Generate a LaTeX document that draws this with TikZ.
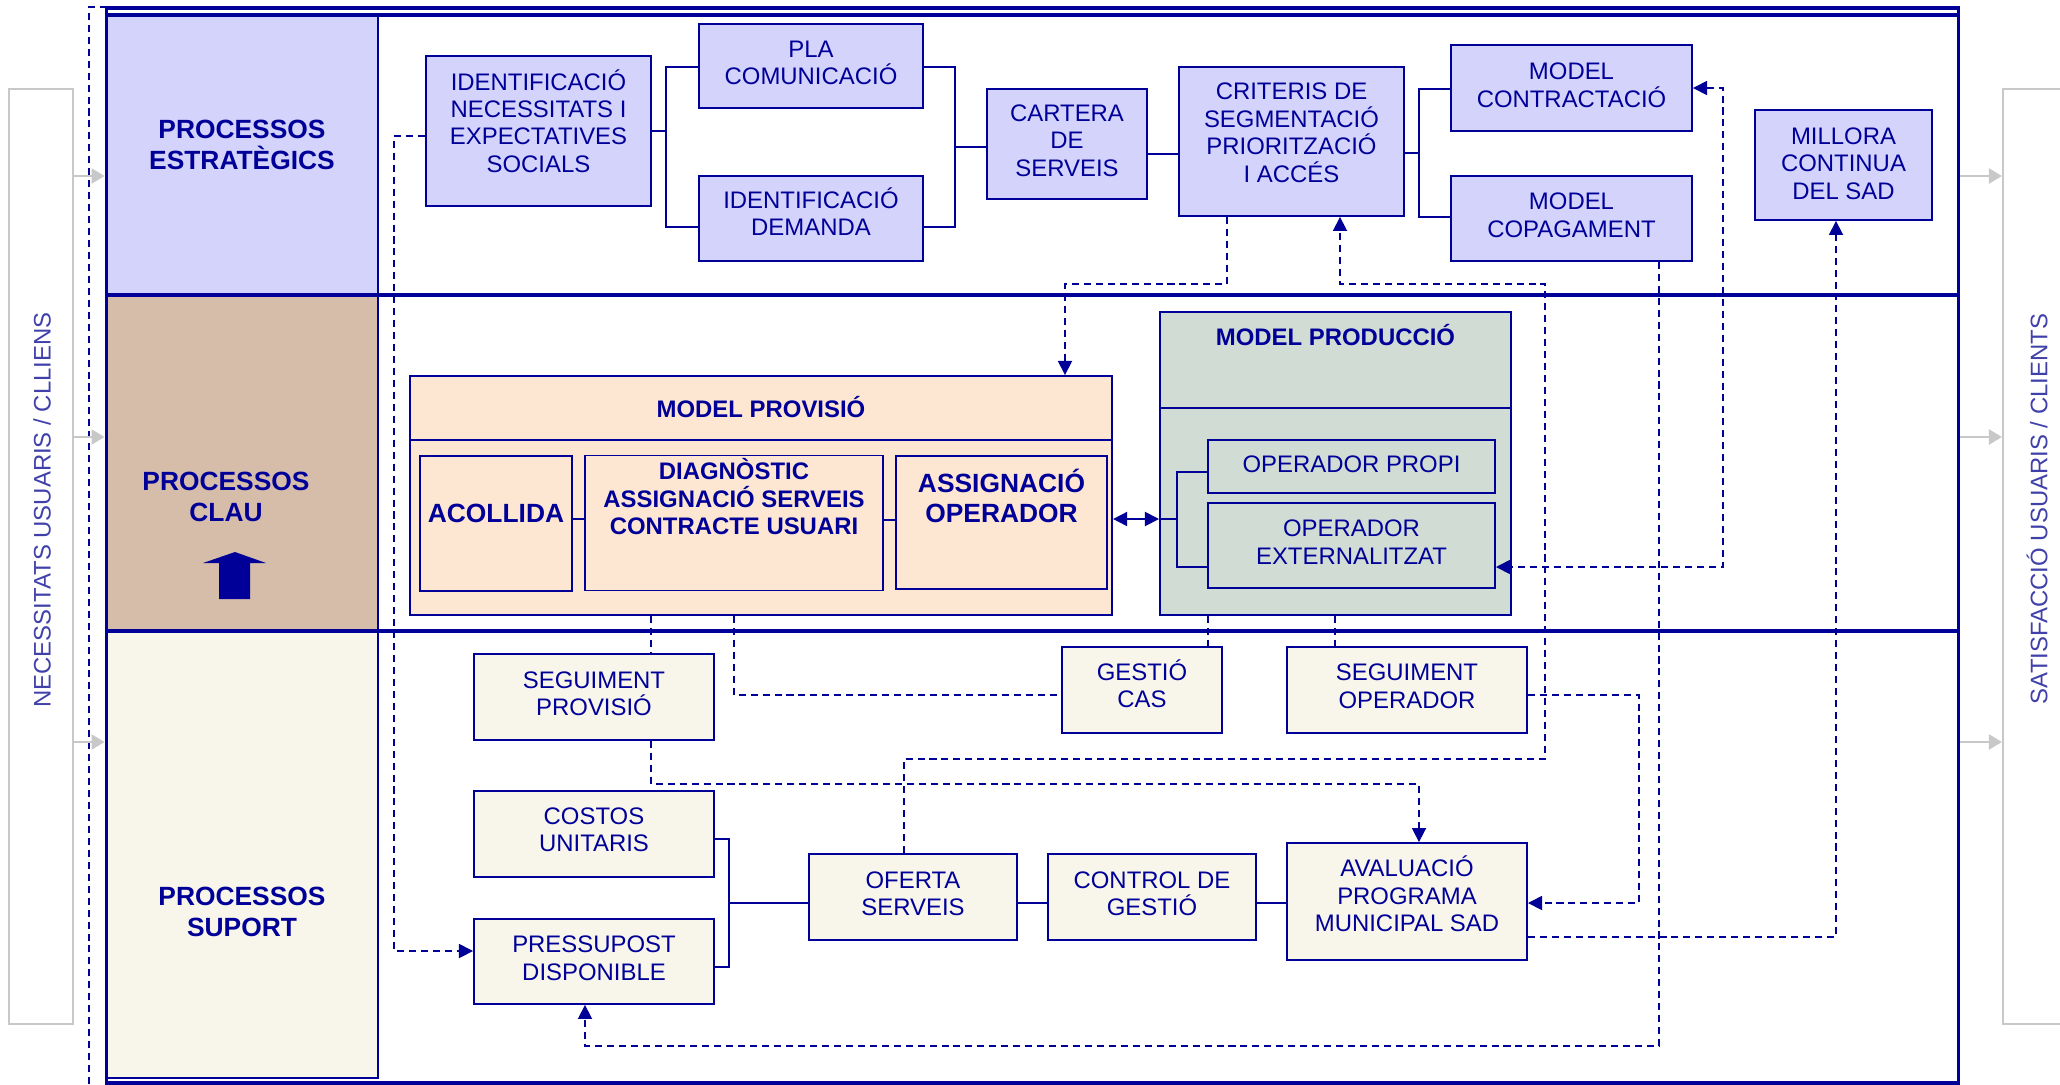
\documentclass[tikz,border=0pt]{standalone}
\usepackage{fontspec}
\setmainfont{Liberation Sans}
\usetikzlibrary{arrows.meta}

\definecolor{dblue}{RGB}{0,0,153}
\definecolor{lav}{RGB}{211,211,252}
\definecolor{peach}{RGB}{253,231,211}
\definecolor{sage}{RGB}{209,220,212}
\definecolor{tan}{RGB}{214,189,170}
\definecolor{cream}{RGB}{248,246,235}
\definecolor{sidegray}{RGB}{200,200,200}
\definecolor{sideblue}{RGB}{64,64,170}
\newcommand{\lift}[1]{\rule[-#1]{0pt}{0pt}}

\begin{document}
\begin{tikzpicture}[x=0.01cm, y=-0.01cm,
	box/.style={draw=dblue, line width=0.5pt, align=center, inner sep=0pt, text=dblue, font=\fontsize{6.8}{7.8}\selectfont},
	strat/.style={box, fill=lav},
	clau/.style={box, fill=peach},
	prod/.style={box, fill=sage},
	suport/.style={box, fill=cream},
	hdr/.style={text=dblue, align=center, font=\fontsize{7.5}{8.8}\selectfont\bfseries},
	ttl/.style={text=dblue, font=\fontsize{6.8}{8}\selectfont\bfseries},
	bigtxt/.style={font=\fontsize{7.5}{8.5}\selectfont\bfseries},
	sidebox/.style={draw=sidegray, line width=0.6pt, minimum width=0.64cm, minimum height=9.35cm, inner sep=0pt},
	sidetxt/.style={text=sideblue, rotate=90, font=\fontsize{6.8}{8}\selectfont},
	conn/.style={color=dblue, line width=0.5pt},
	dline/.style={color=dblue, line width=0.45pt, dash pattern=on 2pt off 1.4pt},
	toarrow/.style={-{Triangle[length=4pt, width=4pt]}},
	botharrow/.style={{Triangle[length=4pt, width=4pt]}-{Triangle[length=4pt, width=4pt]}},
	band/.style={draw=dblue, line width=1pt},
	grayarr/.style={color=sidegray, line width=0.6pt, -{Triangle[length=3.7pt, width=4.3pt]}}
]
	\useasboundingbox (0,0) rectangle (2060,1084);
	\clip (0,0) rectangle (2060,1084);

	% label column
	\fill[lav] (107,15) rectangle (378,295);
	\fill[tan] (107,295) rectangle (378,631);
	\fill[cream] (107,631) rectangle (378,1078);
	\draw[dblue, line width=0.6pt] (378,15) -- (378,1078) -- (107,1078);

	% frame and bands
	\node[draw=dblue, line width=1.1pt, minimum width=18.51cm, minimum height=10.75cm, inner sep=0pt] (frame) at (1032.5,545.5) {};
	\draw[band] (frame.west |- 0,15) -- (frame.east |- 0,15);
	\draw[band] (frame.west |- 0,295) -- (frame.east |- 0,295);
	\draw[band] (frame.west |- 0,631) -- (frame.east |- 0,631);
	\draw[dline] (89,1084) -- (89,7) -- (1958,7);

	\node[hdr] (lblest) at (242,144.5) {PROCESSOS\\ESTRATÈGICS};
	\node[hdr] (lblclau) at (226,497) {PROCESSOS\\CLAU};
	\node[hdr] (lblsup) at (242,912) {PROCESSOS\\SUPORT};
	\fill[dblue] (235,552) -- (266,563) -- (250,563) -- (250,599) -- (219,599) -- (219,563) -- (203,563) -- cycle;

	% side boxes
	\node[sidebox] (needs) at (41,556.5) {};
	\node[sidebox] (satisf) at (2035,556.5) {};
	\node[sidetxt] (needstxt) at (42,510) {NECESSITATS USUARIS / CLLIENS};
	\node[sidetxt] (satisftxt) at (2037,509) {SATISFACCIÓ USUARIS / CLIENTS};
	\draw[grayarr] (needs.east |- 0,176) -- (frame.west |- 0,176);
	\draw[grayarr] (needs.east |- 0,437) -- (frame.west |- 0,437);
	\draw[grayarr] (needs.east |- 0,742) -- (frame.west |- 0,742);
	\draw[grayarr] (frame.east |- 0,176) -- (satisf.west |- 0,176);
	\draw[grayarr] (frame.east |- 0,437) -- (satisf.west |- 0,437);
	\draw[grayarr] (frame.east |- 0,742) -- (satisf.west |- 0,742);

	% estrategics
	\node[strat, minimum width=2.25cm, minimum height=1.5cm] (ident) at (538.5,131) {IDENTIFICACIÓ\\NECESSITATS I\\EXPECTATIVES\\SOCIALS\lift{5.8pt}};
	\node[strat, minimum width=2.24cm, minimum height=0.84cm] (pla) at (811,66) {PLA\\COMUNICACIÓ\lift{1.7pt}};
	\node[strat, minimum width=2.24cm, minimum height=0.85cm] (idemanda) at (811,218.5) {IDENTIFICACIÓ\\DEMANDA\lift{3.8pt}};
	\node[strat, minimum width=1.6cm, minimum height=1.1cm] (cartera) at (1067,144) {CARTERA\\DE\\SERVEIS\lift{2pt}};
	\node[strat, minimum width=2.25cm, minimum height=1.49cm] (criteris) at (1291.5,141.5) {CRITERIS DE\\SEGMENTACIÓ\\PRIORITZACIÓ\\I ACCÉS\lift{5.1pt}};
	\node[strat, minimum width=2.41cm, minimum height=0.86cm] (contract) at (1571.5,88) {MODEL\\CONTRACTACIÓ\lift{1.7pt}};
	\node[strat, minimum width=2.41cm, minimum height=0.85cm] (copag) at (1571.5,218.5) {MODEL\\COPAGAMENT\lift{2pt}};
	\node[strat, minimum width=1.77cm, minimum height=1.1cm] (millora) at (1843.5,165) {MILLORA\\CONTINUA\\DEL SAD\lift{0.9pt}};

	% clau
	\node[clau, minimum width=7.02cm, minimum height=2.39cm] (provisio) at (761,495.5) {};
	\draw[conn] (provisio.west |- 0,440) -- (provisio.east |- 0,440);
	\node[ttl] (provttl) at (761,407) {MODEL PROVISIÓ};
	\node[clau, minimum width=1.52cm, minimum height=1.35cm, bigtxt] (acollida) at (496,523.5) {ACOLLIDA\lift{6pt}};
	\node[clau, minimum width=2.98cm, minimum height=1.35cm, font=\fontsize{6.8}{7.9}\selectfont\bfseries] (diagnostic) at (734,523) {DIAGNÒSTIC\\ASSIGNACIÓ SERVEIS\\CONTRACTE USUARI\lift{15.1pt}};
	\node[clau, minimum width=2.11cm, minimum height=1.33cm, bigtxt] (assignacio) at (1001.5,522.5) {ASSIGNACIÓ\\OPERADOR\lift{15.1pt}};

	\node[prod, minimum width=3.51cm, minimum height=3.03cm] (produccio) at (1335.5,463.5) {};
	\draw[conn] (produccio.west |- 0,408) -- (produccio.east |- 0,408);
	\node[ttl] (prodttl) at (1335.5,335) {MODEL PRODUCCIÓ};
	\node[prod, minimum width=2.87cm, minimum height=0.53cm] (propi) at (1351.5,466.5) {OPERADOR PROPI\lift{1.4pt}};
	\node[prod, minimum width=2.87cm, minimum height=0.85cm] (extern) at (1351.5,545.5) {OPERADOR\\EXTERNALITZAT\lift{2pt}};

	% suport
	\node[suport, minimum width=2.4cm, minimum height=0.86cm] (segprov) at (594,697) {SEGUIMENT\\PROVISIÓ\lift{2pt}};
	\node[suport, minimum width=2.4cm, minimum height=0.86cm] (costos) at (594,834) {COSTOS\\UNITARIS\lift{2.6pt}};
	\node[suport, minimum width=2.4cm, minimum height=0.85cm] (pressu) at (594,961.5) {PRESSUPOST\\DISPONIBLE\lift{2pt}};
	\node[suport, minimum width=2.08cm, minimum height=0.86cm] (oferta) at (913,897) {OFERTA\\SERVEIS\lift{2pt}};
	\node[suport, minimum width=2.08cm, minimum height=0.86cm] (control) at (1152,897) {CONTROL DE\\GESTIÓ\lift{2pt}};
	\node[suport, minimum width=2.4cm, minimum height=1.17cm] (avalua) at (1407,901.5) {AVALUACIÓ\\PROGRAMA\\MUNICIPAL SAD\lift{4.3pt}};
	\node[suport, minimum width=1.6cm, minimum height=0.86cm] (gestio) at (1142,690) {GESTIÓ\\CAS\lift{3.5pt}};
	\node[suport, minimum width=2.4cm, minimum height=0.86cm] (segop) at (1407,690) {SEGUIMENT\\OPERADOR\lift{2.3pt}};

	% solid connectors
	\coordinate (jA) at (666,131);
	\coordinate (jB) at (955,147);
	\coordinate (jC) at (1419,153);
	\coordinate (jD) at (1177,519);
	\coordinate (jE) at (729,903);
	\draw[conn] (ident.east) -- (jA);
	\draw[conn] (pla.west |- 0,67) -| (jA) |- (idemanda.west |- 0,227);
	\draw[conn] (pla.east |- 0,67) -| (jB) |- (idemanda.east |- 0,227);
	\draw[conn] (jB) -- (cartera.west |- jB);
	\draw[conn] (cartera.east |- 0,154) -- (criteris.west |- 0,154);
	\draw[conn] (criteris.east |- jC) -- (jC);
	\draw[conn] (contract.west |- 0,89) -| (jC) |- (copag.west |- 0,217);
	\draw[conn] (acollida.east |- 0,519) -- (diagnostic.west |- 0,519);
	\draw[conn] (diagnostic.east |- 0,520) -- (assignacio.west |- 0,520);
	\draw[conn, botharrow] (provisio.east |- jD) -- (produccio.west |- jD);
	\draw[conn] (produccio.west |- jD) -- (jD);
	\draw[conn] (propi.west |- 0,472) -| (jD) |- (extern.west |- 0,567);
	\draw[conn] (costos.east |- 0,839) -| (jE) |- (pressu.east |- 0,967);
	\draw[conn] (jE) -- (oferta.west |- jE);
	\draw[conn] (oferta.east |- jE) -- (control.west |- jE);
	\draw[conn] (control.east |- jE) -- (avalua.west |- jE);

	% dashed connectors
	\draw[dline, toarrow] (ident.west |- 0,136) -| (394,951) -- (pressu.west |- 0,951);
	\draw[dline, toarrow] (criteris.south -| 1227,0) |- (1065,284) -- (provisio.north -| 1065,0);
	\draw[dline, toarrow] (oferta.north -| 904,0) |- (1545,759) |- (1340,284) -- (criteris.south -| 1340,0);
	\draw[dline, toarrow] (copag.south -| 1659,0) |- (585,1046) -- (pressu.south -| 585,0);
	\draw[dline, botharrow] (contract.east) -| (1723,567) -- (extern.east |- 0,567);
	\draw[dline, toarrow] (avalua.east |- 0,937) -| (millora.south -| 1836,0);
	\draw[dline, toarrow] (segop.east |- 0,695) -| (1639,903) -- (avalua.east |- 0,903);
	\draw[dline] (provisio.south -| 651,0) -- (segprov.north -| 651,0);
	\draw[dline, toarrow] (segprov.south -| 651,0) |- (1419,784) -- (avalua.north -| 1419,0);
	\draw[dline] (provisio.south -| 734,0) |- (gestio.west |- 0,695);
	\draw[dline] (produccio.south -| 1208,0) -- (gestio.north -| 1208,0);
	\draw[dline] (produccio.south -| 1335,0) -- (segop.north -| 1335,0);
\end{tikzpicture}
\end{document}
